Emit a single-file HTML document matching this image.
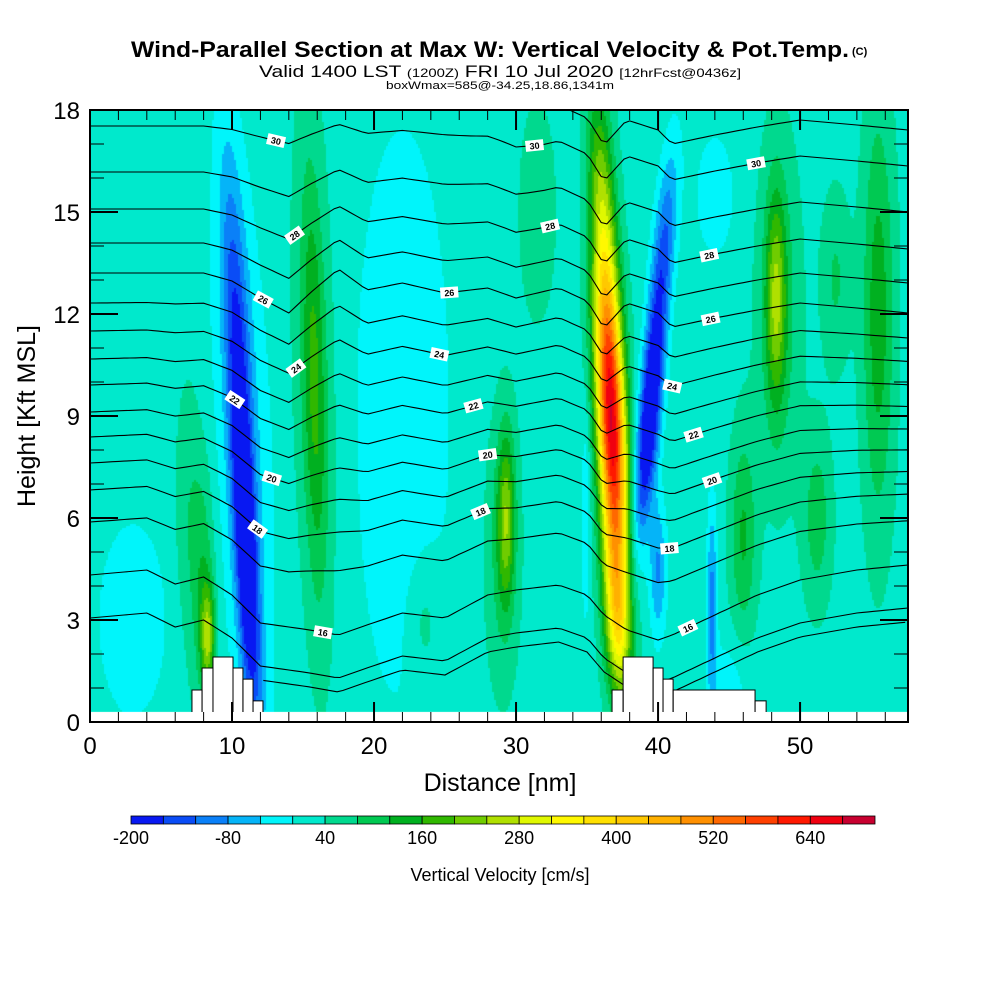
<!DOCTYPE html>
<html><head><meta charset="utf-8">
<style>
html,body{margin:0;padding:0;background:#fff;}
#wrap{position:relative;width:1000px;height:1000px;overflow:hidden;font-family:"Liberation Sans",sans-serif;}
canvas{position:absolute;left:0;top:0;}
svg{position:absolute;left:0;top:0;}
</style></head>
<body>
<div id="wrap">
<canvas id="field" width="1000" height="1000"></canvas>
<svg id="svg" width="1000" height="1000">
  <text x="490" y="57" text-anchor="middle" font-size="22" font-weight="bold" textLength="718" lengthAdjust="spacingAndGlyphs">Wind-Parallel Section at Max W: Vertical Velocity &amp; Pot.Temp.</text>
  <text x="852" y="55" font-size="11" font-weight="bold">(C)</text>
  <text x="500" y="77" text-anchor="middle" font-size="17" textLength="482" lengthAdjust="spacingAndGlyphs">Valid 1400 LST <tspan font-size="12">(1200Z)</tspan> FRI 10 Jul 2020 <tspan font-size="12">[12hrFcst@0436z]</tspan></text>
  <text x="500" y="89" text-anchor="middle" font-size="11" textLength="228" lengthAdjust="spacingAndGlyphs">boxWmax=585@-34.25,18.86,1341m</text>
  <g id="lines"></g>
  <g id="terrain"></g>
  <g id="labels"></g>
  <g id="axes"></g>
  <text x="500" y="791" text-anchor="middle" font-size="25">Distance [nm]</text>
  <text x="0" y="0" text-anchor="middle" font-size="25" transform="translate(35,416) rotate(-90)">Height [Kft MSL]</text>
  <g id="cbar"></g>
  <text x="500" y="881" text-anchor="middle" font-size="18">Vertical Velocity [cm/s]</text>
</svg>
</div>
<script>
// ---- data ----
const colorLevels = [-200,-160,-120,-80,-40,0,40,80,120,160,200,240,280,320,360,400,440,480,520,560,600,640,680,720];
const colors = ["#0818f2","#0a4cf6","#0a80f8","#05b4f8","#00f5fb","#00e9cc","#00d98e","#00c952","#00b020","#30b800","#70cc00","#b0e000","#e0f800","#fff800","#ffe000","#ffc800","#ffb000","#ff9000","#ff6800","#ff4000","#ff1800","#f00010","#c80030"];
const cbarLabels = [-200,-80,40,160,280,400,520,640];
const baseW = 25;
const featX   = [11.0, 10.3, 10.8, 15.8, 15.8, 8.3, 8.0, 7.0, 3.0, 22.0, 23.5, 29.3, 29.0, 36.7, 36.0, 37.1, 39.4, 40.4, 40.0, 43.8, 34.9, 46.0, 48.3, 48.5, 55.5, 51.2, 44.0, 45.0, 31.5, 52.5];
const featH   = [5.0, 12.0, 8.0, 10.0, 10.0, 2.5, 4.0, 6.0, 3.0, 9.0, 3.0, 6.0, 5.0, 9.0, 16.0, 3.0, 9.0, 14.0, 4.5, 3.5, 6.0, 5.5, 12.5, 12.0, 12.0, 6.0, 15.5, 1.0, 15.0, 13.0];
const featAmp = [-260, -120, -60, 110, 45, 190, 80, 50, -60, -60, 50, 170, 60, 660, 130, 250, -280, -130, -110, -120, -70, 100, 170, 70, 120, 80, -50, -50, 50, 60];
const featSx  = [0.75, 0.9, 2.2, 0.8, 1.6, 0.5, 0.8, 1.0, 2.5, 3.5, 1.2, 0.6, 1.2, 1.0, 0.9, 0.9, 0.75, 0.8, 0.6, 0.35, 0.3, 0.9, 0.7, 1.5, 1.1, 1.0, 1.5, 1.5, 1.2, 1.0];
const featSh  = [5.0, 5.0, 9.0, 6.0, 8.0, 1.5, 3.5, 4.0, 3.0, 9.0, 2.0, 2.5, 4.0, 5.0, 3.0, 2.5, 3.5, 3.0, 2.0, 3.0, 3.0, 3.0, 3.0, 5.0, 6.0, 2.5, 2.0, 1.5, 3.0, 2.5];
const featTilt= [-0.12, -0.12, -0.1, -0.05, -0.05, 0, 0, 0, 0, 0, 0, 0, 0, -0.1, -0.1, -0.1, 0.2, 0.2, 0, 0, 0, 0, 0, 0, 0, 0, 0, 0, 0, 0];

const knots  = [0,4,6,8,10,12,14,15.5,17.5,19.5,22,25,28,30,33,35,36.2,37.8,40,41,44,47,50,54,57.6];
const dispU  = [0,0,0,0,8,25,40,20,-4,17,10,20,15,25,15,28,55,30,40,54,45,37,30,35,40];
const dispL  = [0,-5,9,2,20,48,52,55,60,50,38,43,20,15,10,20,40,55,65,60,40,20,5,-5,-10];
const thetaVals = [14,15,16,17,18,19,20,21,22,23,24,25,26,27,28,29,30,31,32];
const thetaBase = [632,618,575,522,490,463,437,412,385,359,331,303,273,243,209,172,126,90,55];
const thetaStart = [12.2,0,0,0,0,0,0,0,0,0,0,0,0,0,0,0,0,0,0];
const labelTheta = [30,30,28,28,26,26,24,24,22,22,20,20,18,18,16,30,28,26,24,22,20,18,16];
const labelNm    = [13.1,31.3,14.4,32.4,12.2,25.3,14.5,24.6,10.2,27,12.8,28,11.8,27.5,16.4,46.9,43.6,43.7,41,42.5,43.8,40.8,42.1];
const terrainStart = [7.18,7.89,8.66,10.07,10.77,11.48,36.76,37.54,39.65,40.35,41.06,46.83,0];
const terrainEnd   = [7.89,8.66,10.07,10.77,11.48,12.18,37.54,39.65,40.35,41.06,46.83,47.61,57.6];
const terrainTop   = [0.94,1.59,1.91,1.59,1.26,0.62,0.94,1.91,1.59,1.26,0.94,0.62,0.29];
const xTicks = [0,10,20,30,40,50];
const yTicks = [0,3,6,9,12,15,18];

// ---- scales ----
const X0=90, X1=908, Y0=722, Y1=110, XMAX=57.6, HMAX=18;
const sx = v => X0 + v*(X1-X0)/XMAX;
const sy = h => Y0 - h*(Y0-Y1)/HMAX;
const invx = p => (p-X0)*XMAX/(X1-X0);
const invy = p => (Y0-p)*HMAX/(Y0-Y1);
const NS="http://www.w3.org/2000/svg";
function mk(tag, attrs, parent){const e=document.createElementNS(NS,tag);for(const k in attrs)e.setAttribute(k,attrs[k]);parent.appendChild(e);return e;}

// ---- field ----
function wval(x,h){
  let v=baseW;
  for(let i=0;i<featX.length;i++){
    const xc=featX[i]+featTilt[i]*(h-featH[i]);
    const dx=(x-xc)/featSx[i], dh=(h-featH[i])/featSh[i];
    v+=featAmp[i]*Math.exp(-dx*dx-dh*dh);
  }
  return v;
}
const ctx=document.getElementById('field').getContext('2d');
const step=2;
for(let py=Y1;py<712;py+=step){
  for(let px=X0;px<X1;px+=step){
    const v=wval(invx(px+1),invy(py+1));
    let idx=Math.floor((v-colorLevels[0])/40);
    idx=Math.max(0,Math.min(colors.length-1,idx));
    ctx.fillStyle=colors[idx];
    ctx.fillRect(px,py,step,step);
  }
}

// ---- theta lines ----
function interp(arr,x){
  for(let i=0;i<knots.length-1;i++){
    if(x<=knots[i+1]){const t=(x-knots[i])/(knots[i+1]-knots[i]);return arr[i]+t*(arr[i+1]-arr[i]);}
  }
  return arr[arr.length-1];
}
function lineY(k,x){
  const base=thetaBase[k];
  const t=Math.max(0,Math.min(1,(base-273)/(575-273)));
  let d=interp(dispU,x)*(1-t)+interp(dispL,x)*t;
  if(base<273){
    const sTop=Math.max(0.3,Math.min(1,0.3+0.7*(base-90)/(273-90)));
    const f=x<25?0:(x>32?1:(x-25)/7);
    d*=sTop+(1-sTop)*f;
  }
  return base+d;
}
const lg=document.getElementById('lines');
const clip=mk('clipPath',{id:'plotclip'},document.getElementById('svg'));
mk('rect',{x:X0,y:Y1,width:X1-X0,height:712-Y1},clip);
lg.setAttribute('clip-path','url(#plotclip)');
thetaVals.forEach((th,k)=>{
  let pts=[];
  for(let x=thetaStart[k];x<=XMAX+0.001;x+=0.4){pts.push(sx(x).toFixed(1)+','+lineY(k,x).toFixed(1));}
  const p=mk('polyline',{points:pts.join(' '),fill:'none',stroke:'#000','stroke-width':1.1},lg);
  
  
});

// ---- terrain ----
const tg=document.getElementById('terrain');
for(let i=0;i<terrainStart.length;i++){
  const r=mk('rect',{x:sx(terrainStart[i]),y:sy(terrainTop[i]),width:sx(terrainEnd[i])-sx(terrainStart[i])+0.5,height:Y0-sy(terrainTop[i]),fill:'#fff'},tg);
  
  
}
for(let i=0;i<terrainStart.length-1;i++){
  mk('path',{d:`M${sx(terrainStart[i])},${Y0-10} V${sy(terrainTop[i])} H${sx(terrainEnd[i])} V${Y0-10}`,fill:'none',stroke:'#000','stroke-width':1},tg);
}

// ---- labels ----
const lbg=document.getElementById('labels');
labelTheta.forEach((th,i)=>{
  const k=thetaVals.indexOf(th);
  const x=labelNm[i];
  const y=lineY(k,x), px=sx(x);
  const ang=Math.atan2(lineY(k,x+0.4)-lineY(k,x-0.4), sx(x+0.4)-sx(x-0.4))*180/Math.PI;
  const g=mk('g',{transform:`translate(${px},${y}) rotate(${ang})`},lbg);
  
  
  mk('rect',{x:-9,y:-5.5,width:18,height:11,fill:'#fff'},g);
  const t=mk('text',{x:0,y:3.5,'text-anchor':'middle','font-size':9,'font-weight':'bold'},g);
  t.textContent=th;
});

// ---- axes ----
const ag=document.getElementById('axes');
mk('rect',{x:X0,y:Y1,width:X1-X0,height:Y0-Y1,fill:'none',stroke:'#000','stroke-width':2},ag);
for(let x=0;x<=XMAX;x+=2){
  const major=(x%10===0), L=major?20:10;
  mk('line',{x1:sx(x),x2:sx(x),y1:Y0,y2:Y0-L,stroke:'#000','stroke-width':major?2:1},ag);
  mk('line',{x1:sx(x),x2:sx(x),y1:Y1,y2:Y1+L,stroke:'#000','stroke-width':major?2:1},ag);
}
for(let h=0;h<=HMAX;h+=1){
  const major=(h%3===0), L=major?28:14;
  mk('line',{x1:X0,x2:X0+L,y1:sy(h),y2:sy(h),stroke:'#000','stroke-width':major?2:1},ag);
  mk('line',{x1:X1,x2:X1-L,y1:sy(h),y2:sy(h),stroke:'#000','stroke-width':major?2:1},ag);
}
xTicks.forEach(v=>{
  const t=mk('text',{x:sx(v),y:754,'text-anchor':'middle','font-size':24},ag);
  
  
  t.textContent=v;
});
yTicks.forEach(v=>{
  const t=mk('text',{x:80,y:sy(v)+9,'text-anchor':'end','font-size':24},ag);
  
  
  t.textContent=v;
});

// ---- colorbar ----
const cg=document.getElementById('cbar');
const CB0=131, CB1=875, CBY=816, CBH=8;
const bw=(CB1-CB0)/colors.length;
colors.forEach((c,i)=>{
  const r=mk('rect',{x:CB0+i*bw,y:CBY,width:bw,height:CBH,fill:c,stroke:'#000','stroke-width':0.8},cg);
  
  
});
cbarLabels.forEach(v=>{
  const i=(v-colorLevels[0])/40;
  const t=mk('text',{x:CB0+i*bw,y:844,'text-anchor':'middle','font-size':18},cg);
  
  
  t.textContent=v;
});
</script>
</body></html>
